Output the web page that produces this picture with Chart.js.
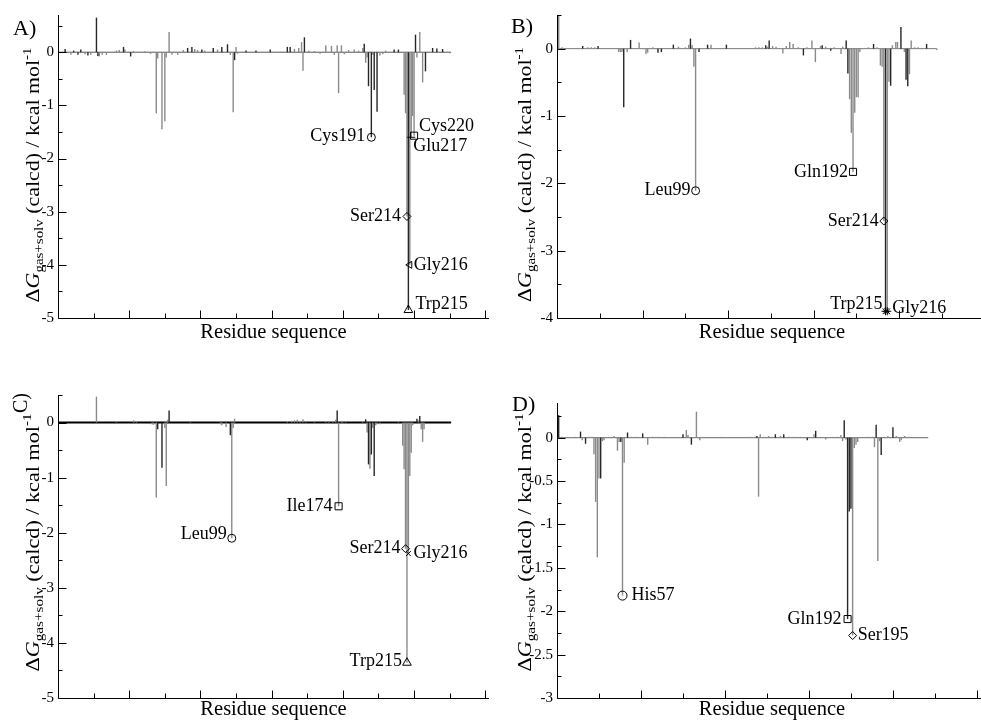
<!DOCTYPE html>
<html><head><meta charset="utf-8">
<script src="https://cdn.jsdelivr.net/npm/chart.js@4.4.0/dist/chart.umd.min.js"></script>
<style>
html,body{margin:0;padding:0;background:#fff;overflow:hidden;width:981px;height:722px;}
canvas{position:absolute;}
</style></head><body>
<canvas id="cA" width="495" height="361" style="left:0;top:0"></canvas>
<canvas id="cB" width="503" height="361" style="left:490px;top:0"></canvas>
<canvas id="cC" width="495" height="361" style="left:0;top:361px"></canvas>
<canvas id="cD" width="503" height="361" style="left:490px;top:361px"></canvas>
<script>
// ---------------- DATA (residue index along the sequence, energy in kcal/mol) ----------------
// Panel A
const resA_dark = [5,11,14,16,21,27,28,46,51,91,94,101,109,115,119,124,132,139,149,161,163,173,215,218,220,222,224,236,239,246,251,258,263,266,270];
const valA_dark = [0.06,0.03,-0.05,0.05,-0.06,0.65,-0.07,0.1,-0.08,0.08,0.1,0.05,0.08,0.1,0.15,-0.15,0.03,0.03,0.05,0.1,0.1,0.28,0.16,-0.64,-1.6,-0.71,-1.12,0.05,0.05,-4.85,0.33,-0.36,0.08,0.07,0.06];
const resA_gray = [9,19,23,29,31,34,41,43,47,53,61,65,69,70,73,75,76,78,80,84,88,96,98,103,112,121,123,125,126,166,169,171,172,176,180,184,188,192,194,196,197,199,201,204,208,211,214,216,217,221,226,228,230,243,244,245,247,248,249,250,252,254,256,275];
const valA_gray = [-0.05,-0.04,-0.05,-0.08,-0.05,-0.05,0.03,0.04,0.05,0.02,0.02,-0.03,-1.15,-0.12,-1.45,-1.3,-0.1,0.38,-0.05,-0.05,0.04,0.06,0.04,0.03,0.05,-0.05,-1.13,0.1,-0.03,0.06,0.08,0.19,-0.35,0.03,0.02,-0.03,0.13,0.12,-0.05,0.13,-0.77,0.13,-0.04,0.04,0.05,0.03,0.08,-0.2,-0.1,-0.05,-0.06,-0.04,0.03,-0.8,-1.15,-3.09,-4.0,-1.6,-1.2,-1.57,-0.1,0.38,-0.57,-0.02];
const annA_name = ['Cys191','Cys220','Glu217','Ser214','Gly216','Trp215'];
const annA_res  = [220,250,248,245,247,246];
const annA_val  = [-1.6,-1.57,-1.6,-3.09,-4.0,-4.85];
const lastResA = 276;
const yTicksA = [0,-1,-2,-3,-4,-5];

// Panel B
const resB_dark = [15,24,39,43,59,61,68,78,83,88,99,122,124,144,155,160,169,170,185,192,195,201,204,205,216];
const valB_dark = [0.04,0.04,-0.87,0.13,-0.06,-0.05,0.06,0.15,-0.05,0.06,0.06,0.05,0.12,-0.1,0.05,-0.03,0.12,-0.37,0.07,-3.9,-0.55,0.32,-0.46,-0.56,0.07];
const resB_gray = [1,3,10,18,20,22,26,35,36,37,38,41,48,52,53,56,71,75,77,79,80,81,90,116,118,120,123,126,128,132,134,136,138,141,146,149,151,154,157,162,166,167,171,172,173,174,175,176,177,182,187,189,190,191,193,194,196,198,199,203,206,207,209,211,222];
const valB_gray = [0.5,0.02,0.01,0.02,0.02,0.02,0.01,0.01,-0.05,-0.05,-0.05,-0.05,0.09,-0.08,-0.06,0.02,0.03,0.02,0.06,0.05,-0.27,-2.11,0.06,0.02,0.02,0.02,0.03,0.04,0.03,-0.07,0.04,0.1,0.07,0.02,0.02,0.12,-0.2,0.04,0.03,0.02,-0.08,0.03,-0.75,-1.25,-1.83,-0.95,-0.72,-0.72,-0.05,0.02,0.02,-0.25,-0.27,-2.56,-3.9,-0.49,0.05,0.1,0.1,-0.05,-0.38,0.12,0.02,0.02,-0.02];
const annB_name = ['Leu99','Gln192','Ser214','Trp215','Gly216'];
const annB_res  = [81,173,191,192,193];
const annB_val  = [-2.11,-1.83,-2.56,-3.9,-3.9];
const lastResB = 222;
const yTicksB = [0,-1,-2,-3,-4];

// Panel C
const resC_dark = [70,73,78,121,196,216,218,220,222,252,254];
const valC_dark = [-0.12,-0.82,0.22,-0.23,0.22,0.06,-0.76,-0.58,-0.97,0.07,0.12];
const resC_gray = [27,41,53,55,66,67,69,75,76,77,93,114,115,118,122,123,124,161,164,166,168,170,172,174,180,188,190,193,195,197,199,200,202,214,217,219,221,223,224,226,239,242,243,244,245,246,247,248,249,253,255,256,257];
const valC_gray = [0.47,0.02,0.04,0.02,-0.03,-0.04,-1.36,-0.1,-1.15,0.05,0.01,-0.03,-0.05,-0.08,-2.1,-0.1,0.07,0.02,0.03,0.04,0.05,0.03,0.06,0.02,0.02,0.03,0.02,0.03,0.05,-1.52,0.03,-0.02,0.02,0.03,-0.18,-0.84,-0.1,-0.05,-0.03,-0.03,0.02,-0.42,-0.85,-2.29,-4.36,-2.38,-0.97,-0.55,-0.05,0.04,-0.12,-0.35,-0.12];
const annC_name = ['Leu99','Ile174','Ser214','Trp215','Gly216'];
const annC_res  = [122,197,244,245,246];
const annC_val  = [-2.1,-1.52,-2.29,-4.36,-2.38];
const lastResC = 276;
const yTicksC = [0,-1,-2,-3,-4,-5];

// Panel D
const resD_dark = [1,14,17,26,38,42,51,75,80,119,130,135,149,154,171,173,174,175,190,193,200];
const valD_dark = [0.26,0.07,-0.07,-0.47,-0.05,0.06,0.05,0.04,-0.08,0.02,0.04,0.04,-0.03,0.08,0.2,-2.09,-0.85,-0.82,0.15,-0.2,0.12];
const resD_gray = [3,11,15,19,21,22,23,24,25,27,28,34,36,37,39,40,44,47,54,57,60,64,70,77,78,83,85,98,115,118,120,121,123,126,128,133,138,141,145,153,160,164,167,169,170,172,176,177,178,179,185,188,189,191,192,195,197,202,204,205,207,209];
const valD_gray = [0.01,0.01,-0.03,0.01,0.01,-0.19,-0.74,-1.38,-0.47,-0.04,-0.03,0.02,-0.15,-0.05,-1.82,-0.29,0.01,0.01,-0.08,0.01,0.01,0.01,0.01,0.09,0.03,0.3,-0.03,0.01,0.01,0.01,-0.68,0.04,0.01,0.02,0.01,0.02,0.01,0.01,0.01,0.04,-0.02,0.01,0.01,0.03,-0.04,-0.02,-2.28,-0.12,-0.08,-0.05,0.01,0.01,-0.11,-1.42,-0.04,0.01,0.02,0.02,-0.05,-0.03,0.02,0.01];
const annD_name = ['His57','Gln192','Ser195'];
const annD_res  = [39,173,176];
const annD_val  = [-1.82,-2.09,-2.28];
const lastResD = 221;
const yTicksD = [0,-0.5,-1,-1.5,-2,-2.5,-3];

// ---------------- STYLE / LAYOUT ----------------
const FONT = "'Liberation Serif','Times New Roman',serif";
const DARK = '#262626';
const GRAY = '#8a8a8a';

const panels = [
  { id:'cA', letter:'A)', letterPos:{x:13,y:35,rot:false},
    cw:495, ch:361, area:{l:58,t:15,r:495,b:318},
    xMax:302.6, xStep:25, yMin:-5, yMax:0.7, yMinor:0.5, yMajor:1, yTicks:yTicksA,
    dark:[resA_dark,valA_dark], gray:[resA_gray,valA_gray], last:lastResA,
    ann:[annA_name,annA_res,annA_val],
    annStyle:[
      {shape:'circle',r:4,side:'left',dx:-6,dy:-1},
      {shape:'rect',r:5,side:'right',dx:5,dy:-9},
      {shape:'line',r:4,side:'right',dx:2,dy:9},
      {shape:'rectRot',r:4,side:'left',dx:-6,dy:0},
      {shape:'triangle',rot:-90,r:4,side:'right',dx:4,dy:0},
      {shape:'triangle',r:5,side:'right',dx:7,dy:-6}],
    base:{color:'#555',width:1}, yTitle:{x:38.5,y:175,len:255}, xPad:16 },
  { id:'cB', letter:'B)', letterPos:{x:21,y:33,rot:false},
    cw:503, ch:361, area:{l:67,t:15,r:503,b:318},
    xMax:251.3, xStep:25, yMin:-4, yMax:0.5, yMinor:0.5, yMajor:1, yTicks:yTicksB,
    dark:[resB_dark,valB_dark], gray:[resB_gray,valB_gray], last:lastResB,
    ann:[annB_name,annB_res,annB_val],
    annStyle:[
      {shape:'circle',r:4,side:'left',dx:-5,dy:0},
      {shape:'rect',r:5,side:'left',dx:-5,dy:0},
      {shape:'rectRot',r:4,side:'left',dx:-5,dy:0},
      {shape:'star',r:4,side:'left',dx:-3,dy:-7},
      {shape:'star',r:4,side:'right',dx:5,dy:-3}],
    base:{color:'#777',width:1}, yTitle:{x:41,y:174.5,len:255}, xPad:16 },
  { id:'cC', letter:'C)', letterPos:{x:27,y:52,rot:true},
    cw:495, ch:361, area:{l:58,t:34,r:495,b:337},
    xMax:302.6, xStep:25, yMin:-5, yMax:0.5, yMinor:0.5, yMajor:1, yTicks:yTicksC,
    dark:[resC_dark,valC_dark], gray:[resC_gray,valC_gray], last:lastResC,
    ann:[annC_name,annC_res,annC_val],
    annStyle:[
      {shape:'circle',r:4,side:'left',dx:-5,dy:-4},
      {shape:'rect',r:5,side:'left',dx:-6,dy:0},
      {shape:'rectRot',r:4,side:'left',dx:-5,dy:0},
      {shape:'triangle',r:5,side:'left',dx:-5,dy:-1},
      {shape:'crossRot',r:3.5,side:'right',dx:5,dy:0}],
    base:{color:'#000',width:2}, yTitle:{x:38.5,y:181.5,len:258}, xPad:0 },
  { id:'cD', letter:'D)', letterPos:{x:22,y:50,rot:false},
    cw:503, ch:361, area:{l:67,t:42,r:503,b:337},
    xMax:256, xStep:25, yMin:-3, yMax:0.4, yMinor:0.25, yMajor:0.5, yTicks:yTicksD,
    dark:[resD_dark,valD_dark], gray:[resD_gray,valD_gray], last:lastResD,
    ann:[annD_name,annD_res,annD_val],
    annStyle:[
      {shape:'circle',r:4.5,side:'right',dx:9,dy:0},
      {shape:'rect',r:5,side:'left',dx:-6,dy:0},
      {shape:'rectRot',r:4,side:'right',dx:5,dy:0}],
    base:{color:'#666',width:1}, yTitle:{x:41,y:181.5,len:258}, xPad:0 }
];

function drawYTitle(ctx, t) {
  const F = 19, S = 13;
  const parts = [
    {s:'\u0394', f:F+'px '+FONT, dy:0},
    {s:'G', f:'italic '+F+'px '+FONT, dy:0},
    {s:'gas+solv', f:S+'px '+FONT, dy:4},
    {s:' (calcd) / kcal mol', f:F+'px '+FONT, dy:0},
    {s:'-1', f:S+'px '+FONT, dy:-8}
  ];
  let W = 0;
  parts.forEach(p => { ctx.font = p.f; p.w = ctx.measureText(p.s).width; W += p.w; });
  ctx.save();
  ctx.translate(t.x, t.y);
  ctx.rotate(-Math.PI/2);
  ctx.scale(t.len / W, 1);
  ctx.fillStyle = '#000';
  ctx.textBaseline = 'alphabetic';
  ctx.textAlign = 'left';
  let x = -W/2;
  parts.forEach(p => { ctx.font = p.f; ctx.fillText(p.s, x, p.dy); x += p.w; });
  ctx.restore();
}

function makeChart(p) {
  const toXY = (xs, ys) => xs.map((x, i) => ({x: x, y: ys[i]}));
  const deco = {
    id: 'deco',
    afterDatasetsDraw(chart) {
      const {ctx, scales} = chart;
      ctx.save();
      ctx.fillStyle = '#000';
      ctx.font = '18px ' + FONT;
      ctx.textBaseline = 'middle';
      p.ann[0].forEach((name, i) => {
        const st = p.annStyle[i];
        const px = scales.x.getPixelForValue(p.ann[1][i]);
        const py = scales.y.getPixelForValue(p.ann[2][i]);
        ctx.textAlign = st.side === 'left' ? 'right' : 'left';
        ctx.fillText(name, px + st.dx, py + st.dy);
      });
      ctx.restore();
    },
    afterDraw(chart) {
      const {ctx, chartArea: a, scales} = chart;
      ctx.save();
      ctx.strokeStyle = '#000';
      ctx.lineWidth = 1;
      const L = Math.round(a.left) + 0.5, B = Math.round(a.bottom) + 0.5;
      ctx.beginPath();
      ctx.moveTo(L, a.top); ctx.lineTo(L, B); ctx.lineTo(a.right, B);
      ctx.stroke();
      const n = Math.floor((p.yMax - p.yMin) / p.yMinor + 1e-6);
      ctx.beginPath();
      for (let i = 0; i <= n; i++) {
        const v = p.yMin + i * p.yMinor;
        const q = v / p.yMajor;
        const major = Math.abs(q - Math.round(q)) < 1e-6;
        const yy = Math.round(scales.y.getPixelForValue(v)) + 0.5;
        ctx.moveTo(L, yy); ctx.lineTo(L + (major ? 8 : 4), yy);
      }
      for (let k = 1; k * p.xStep <= p.xMax; k++) {
        const xx = Math.round(scales.x.getPixelForValue(k * p.xStep)) + 0.5;
        const major = k % 2 === 0;
        ctx.moveTo(xx, B); ctx.lineTo(xx, B - (major ? 8 : 5));
      }
      ctx.stroke();
      ctx.fillStyle = '#000';
      ctx.textBaseline = 'alphabetic';
      ctx.textAlign = 'left';
      if (p.letterPos.rot) {
        ctx.font = '20px ' + FONT;
        ctx.save();
        ctx.translate(p.letterPos.x, p.letterPos.y);
        ctx.rotate(-Math.PI/2);
        ctx.fillText(p.letter, 0, 0);
        ctx.restore();
      } else {
        ctx.font = '22px ' + FONT;
        ctx.fillText(p.letter, p.letterPos.x, p.letterPos.y);
      }
      ctx.restore();
      drawYTitle(ctx, p.yTitle);
    }
  };

  return new Chart(document.getElementById(p.id), {
    type: 'bar',
    data: {
      datasets: [
        { type:'line', data:[{x:0,y:0},{x:p.last,y:0}], borderColor:p.base.color, borderWidth:p.base.width,
          pointRadius:0, tension:0, order:3 },
        { type:'bar', data:toXY(p.gray[0], p.gray[1]), backgroundColor:GRAY, barThickness:1.4,
          inflateAmount:0, grouped:false, borderWidth:0, order:2 },
        { type:'bar', data:toXY(p.dark[0], p.dark[1]), backgroundColor:DARK, barThickness:1.4,
          inflateAmount:0, grouped:false, borderWidth:0, order:1 },
        { type:'scatter', data:toXY(p.ann[1], p.ann[2]), showLine:false,
          pointStyle:p.annStyle.map(s => s.shape), pointRotation:p.annStyle.map(s => s.rot || 0),
          pointRadius:p.annStyle.map(s => s.r), pointBorderColor:'#000',
          pointBackgroundColor:'rgba(0,0,0,0)', pointBorderWidth:1, order:0 }
      ]
    },
    options: {
      responsive:false, animation:false, devicePixelRatio:1,
      plugins:{ legend:{display:false}, tooltip:{enabled:false}, title:{display:false} },
      layout:{ padding:{ top:p.area.t, right:p.cw - p.area.r, left:0, bottom:0 } },
      scales:{
        x:{ type:'linear', min:0, max:p.xMax, offset:false,
            grid:{display:false, drawTicks:false}, border:{display:false},
            ticks:{display:false},
            title:{ display:true, text:'Residue sequence', color:'#000',
                    font:{family:FONT, size:20.5, lineHeight:1.2}, padding:{top:0, bottom:p.xPad} },
            afterFit: s => { s.height = p.ch - p.area.b; } },
        y:{ type:'linear', min:p.yMin, max:p.yMax,
            grid:{display:false, drawTicks:false}, border:{display:false},
            ticks:{ color:'#000', font:{family:FONT, size:15}, padding:4, autoSkip:false,
                    callback: v => String(v) },
            afterBuildTicks: s => { s.ticks = p.yTicks.map(v => ({value:v})); },
            afterFit: s => { s.width = p.area.l; } }
      }
    },
    plugins:[deco]
  });
}

panels.forEach(makeChart);
</script>
</body></html>
